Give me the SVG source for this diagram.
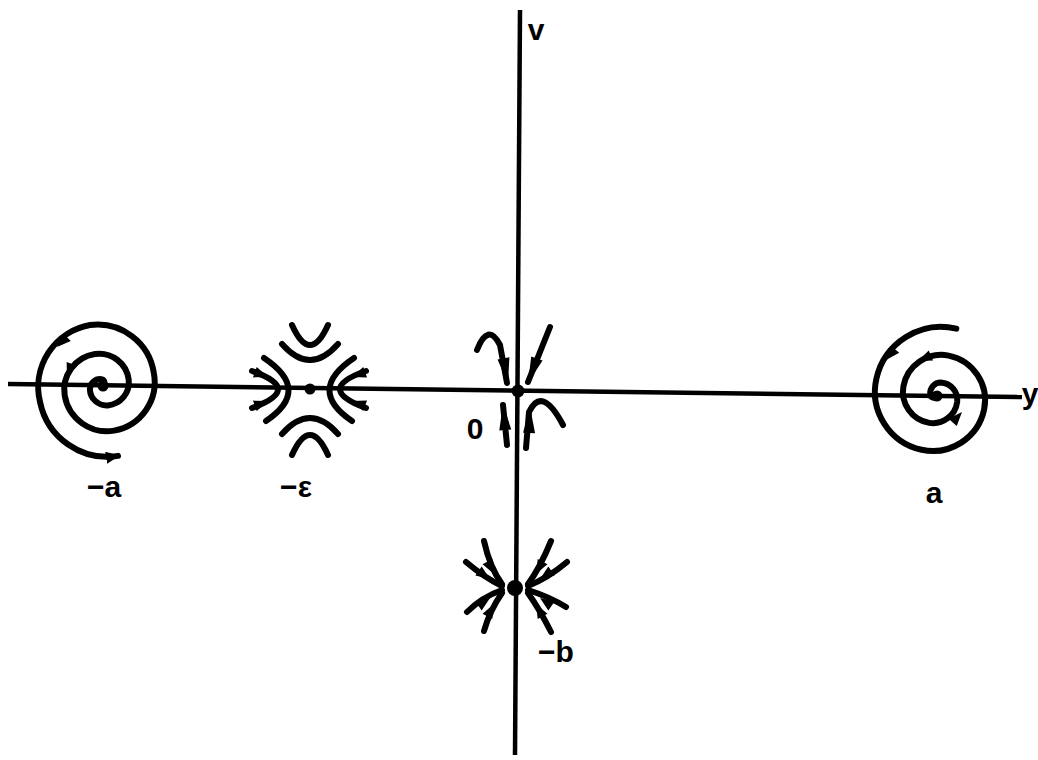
<svg xmlns="http://www.w3.org/2000/svg" xmlns:xlink="http://www.w3.org/1999/xlink" width="1038" height="760" viewBox="0 0 1038 760">
<style>
.ln{fill:none;stroke:#000;stroke-width:6;stroke-linecap:round;stroke-linejoin:round}
.ax{fill:none;stroke:#000;stroke-width:4.5}
.lb{font-family:"Liberation Sans",Arial,sans-serif;font-weight:bold;font-size:30px;fill:#000}
</style>
<defs>
<path id="tip" d="M0,0 L-14,-5.5 L-14,5.5 Z" fill="#000"/>
<path id="wedge" d="M0,0 L-26,-6 L-26,6 Z" fill="#000"/>
<marker id="end" markerUnits="userSpaceOnUse" markerWidth="20" markerHeight="14" refX="12" refY="6" orient="auto"><path d="M0,0 L14,6 L0,12 Z" fill="#000"/></marker>
</defs>
<rect width="1038" height="760" fill="#fff"/>
<g id="axes">
<line class="ax" x1="8" y1="384" x2="1022" y2="397"/>
<line class="ax" x1="520" y1="10" x2="515" y2="755"/>
</g>
<g id="spiral-neg-a">
<path class="ln" marker-end="url(#end)" d="M103,386 A3.8,3.8 0 0 0 101.3,379.2 A10.25,10.25 0 0 0 89.9,389.3 A16.75,16.75 0 0 0 107.8,405.4 A23.25,23.25 0 0 0 128.7,379.6 A29.75,29.75 0 0 0 95,354 A36.25,36.25 0 0 0 64.7,395.6 A42.75,42.75 0 0 0 114.1,430.6 A49.25,49.25 0 0 0 153.9,373.3 A57,57 0 0 0 90,325 A63,63 0 0 0 40,401.8 A68.75,68.75 0 0 0 118,455.9"/>
<use xlink:href="#tip" transform="translate(57,347) rotate(135)"/>
<use xlink:href="#tip" transform="translate(67,377) rotate(110)"/>
<circle cx="103" cy="386" r="5.5"/>
</g>
<g id="saddle-neg-eps">
<path class="ln" d="M292,325 Q310,365 328,325"/>
<path class="ln" d="M282,344 Q310,376 338,344"/>
<path class="ln" d="M282,434 Q310,402 338,434"/>
<path class="ln" d="M292,455 Q310,415 328,455"/>
<path class="ln" d="M264,358 Q312,390 266,421"/>
<path class="ln" d="M252,371 Q304,389 252,408"/>
<path class="ln" d="M354,358 Q306,390 352,421"/>
<path class="ln" d="M366,371 Q314,389 366,408"/>
<use xlink:href="#tip" transform="translate(268,401) rotate(-20)"/>
<use xlink:href="#tip" transform="translate(268,377) rotate(20)"/>
<use xlink:href="#tip" transform="translate(352,377) rotate(160)"/>
<use xlink:href="#tip" transform="translate(352,401) rotate(200)"/>
<circle cx="310" cy="389" r="5.5"/>
</g>
<g id="origin">
<path class="ln" d="M477,350 Q488,322 500,345 L507,383"/>
<use xlink:href="#wedge" transform="translate(508,384) rotate(80)"/>
<path class="ln" d="M550,327 L528,382"/>
<use xlink:href="#wedge" transform="translate(528,383) rotate(110)"/>
<path class="ln" d="M507,445 L503,405"/>
<use xlink:href="#wedge" transform="translate(503,404) rotate(-95)"/>
<path class="ln" d="M526,448 L529,412 Q542,385 563,425"/>
<use xlink:href="#wedge" transform="translate(530,407) rotate(-88)"/>
<circle cx="518" cy="391" r="6.5"/>
</g>
<g id="node-neg-b">
<path class="ln" d="M484,541 Q490,568 502,584"/>
<path class="ln" d="M466,562 Q485,578 502,586"/>
<path class="ln" d="M467,612 Q482,597 502,590"/>
<path class="ln" d="M484,631 Q490,610 502,593"/>
<path class="ln" d="M551,541 Q540,568 528,584"/>
<path class="ln" d="M567,562 Q548,578 528,586"/>
<path class="ln" d="M566,607 Q550,597 528,590"/>
<path class="ln" d="M551,632 Q540,610 528,593"/>
<use xlink:href="#tip" transform="translate(494,574) rotate(62)"/>
<use xlink:href="#tip" transform="translate(490,579) rotate(35)"/>
<use xlink:href="#tip" transform="translate(490,598) rotate(-35)"/>
<use xlink:href="#tip" transform="translate(494,604) rotate(-62)"/>
<use xlink:href="#tip" transform="translate(536,574) rotate(118)"/>
<use xlink:href="#tip" transform="translate(540,579) rotate(145)"/>
<use xlink:href="#tip" transform="translate(540,598) rotate(215)"/>
<use xlink:href="#tip" transform="translate(536,604) rotate(242)"/>
<circle cx="515" cy="588" r="8"/>
</g>
<g id="spiral-a">
<path class="ln" d="M956.3,328.7 A66.5,66.5 0 0 0 876.4,378.6 A59.5,59.5 0 0 0 921.6,449.8 A52.5,52.5 0 0 0 984.1,409.5 A45.5,45.5 0 0 0 948.6,355.6 A38.5,38.5 0 0 0 903.4,386.4 A31.5,31.5 0 0 0 929.3,422.9 A24.5,24.5 0 0 0 957.2,401.8 A17.5,17.5 0 0 0 940.9,382.5 A10.5,10.5 0 0 0 930.3,394.1 A3.6,3.6 0 0 0 937,396"/>
<use xlink:href="#tip" transform="translate(886,360) rotate(130)"/>
<use xlink:href="#tip" transform="translate(918,361) rotate(157)"/>
<use xlink:href="#tip" transform="translate(962,412) rotate(-48)"/>
<circle cx="937" cy="396" r="5.5"/>
</g>
<g id="labels">
<text class="lb" x="536" y="40" text-anchor="middle">v</text>
<text class="lb" x="1030" y="404" text-anchor="middle">y</text>
<text class="lb" x="104" y="497" text-anchor="middle">−a</text>
<text class="lb" x="296" y="497" text-anchor="middle">−ε</text>
<text class="lb" x="934" y="503" text-anchor="middle">a</text>
<text class="lb" x="475" y="439" text-anchor="middle">0</text>
<text class="lb" x="556" y="662" text-anchor="middle">−b</text>
</g>
</svg>
